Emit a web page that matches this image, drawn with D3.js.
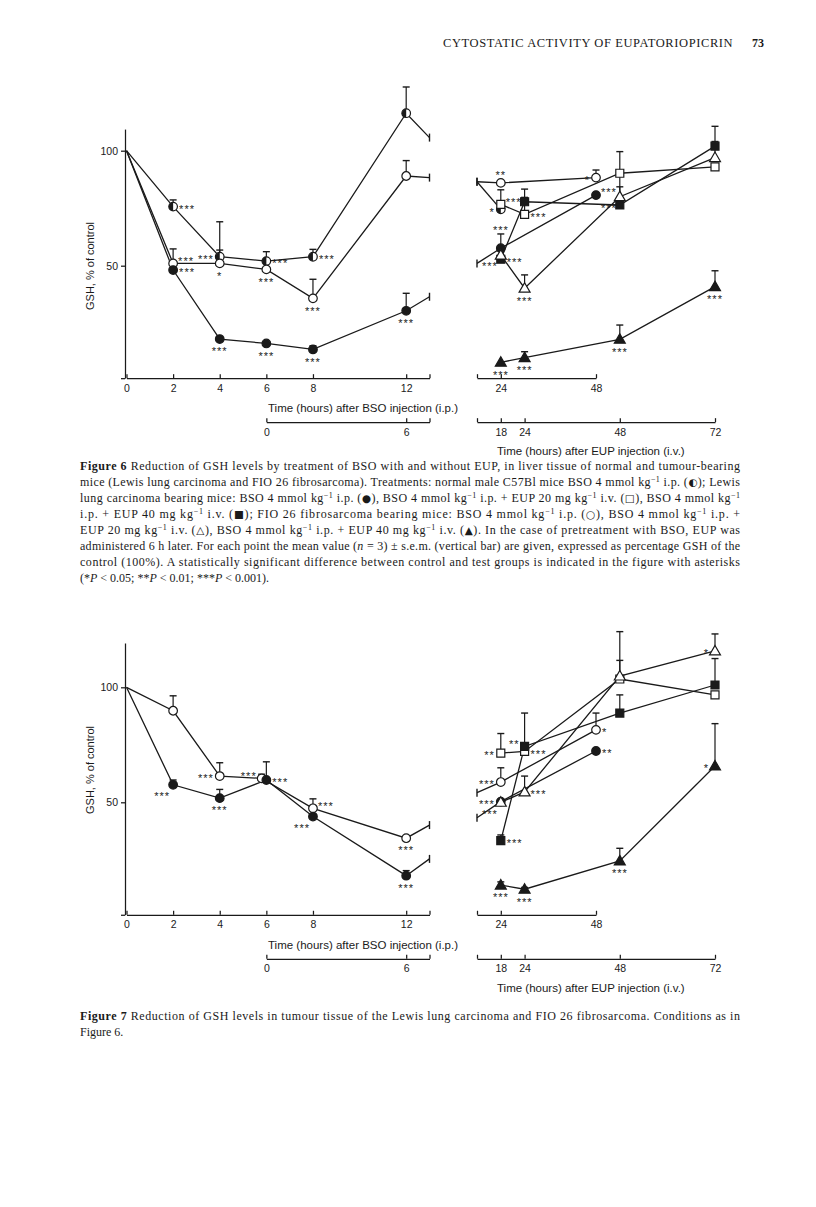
<!DOCTYPE html>
<html><head><meta charset="utf-8">
<script src="https://cdn.jsdelivr.net/npm/d3@7"></script>
<style>body{margin:0;background:#fff} svg{display:block}</style>
</head><body><svg id="c" width="816" height="1207"></svg>
<script>
// ---------------- DATA ----------------
const HEADER_TITLE = 'CYTOSTATIC ACTIVITY OF EUPATORIOPICRIN';
const HEADER_PAGE = '73';
const Y_LABEL = 'GSH, % of control';
const X_TITLE_BSO = 'Time (hours) after BSO injection (i.p.)';
const X_TITLE_EUP = 'Time (hours) after EUP injection (i.v.)';
const Y_TICKS = [50, 100];
const BSO_TICKS_L = [0, 2, 4, 6, 8, 12];
const BSO_TICKS_R = [24, 48];
const EUP_TICKS_L = [0, 6];
const EUP_TICKS_R = [18, 24, 48, 72];

// Figure 6 – left panel (hours after BSO)
const F6L_X      = [0, 2, 4, 6, 8, 12, 13];
const F6L_HALF   = [100, 75.7, 53.9, 52.0, 53.9, 116.3, 105.7];
const F6L_HALF_E = [null, 78.6, 56.8, 56.1, 57.1, 127.7, null];
const F6L_HALF_S = ['', '***', '***', '***', '***', '', ''];
const F6L_HALF_P = ['', 'r', 'l', 'r', 'r', '', ''];
const F6L_OPEN   = [100, 51.0, 51.0, 48.4, 35.8, 89.0, 88.3];
const F6L_OPEN_E = [null, 57.3, 69.1, null, 44.1, 95.7, null];
const F6L_OPEN_S = ['', '***', '*', '***', '***', '', ''];
const F6L_OPEN_P = ['', 'ra', 'b', 'b', 'b', '', ''];
const F6L_FILL   = [100, 48.1, 18.1, 16.2, 13.6, 30.4, 36.5];
const F6L_FILL_E = [null, null, null, null, 15.2, 38.0, null];
const F6L_FILL_S = ['', '***', '***', '***', '***', '***', ''];
const F6L_FILL_P = ['', 'r', 'b', 'b', 'b', 'b', ''];

// Figure 6 – right panel (hours after BSO; EUP series at EUP 18/24/48/72 h)
const F6R_BSO_X   = [18, 24, 48];
const F6R_EUP_X   = [24, 30, 54, 78];
const F6R_OPEN    = [86.5, 86.0, 88.3];
const F6R_OPEN_E  = [null, null, 91.6];
const F6R_OPEN_S  = ['', '**', '*'];
const F6R_OPEN_P  = ['', 'a', 'l'];
const F6R_HALF_X  = [18, 24];
const F6R_HALF    = [86.5, 74.5];
const F6R_HALF_E  = [null, 83.0];
const F6R_HALF_S  = ['', '*'];
const F6R_HALF_P  = ['', 'l'];
const F6R_FILL    = [51.0, 57.6, 80.7];
const F6R_FILL_E  = [null, 63.8, null];
const F6R_FILL_S  = ['', '***', '***'];
const F6R_FILL_P  = ['', 'a', 'ra'];
const F6R_SQF     = [52.8, 77.8, 76.4, 102.0];
const F6R_SQF_E   = [null, 83.3, 90.0, 110.6];
const F6R_SQF_S   = ['***', '', '', ''];
const F6R_SQF_P   = ['r', '', '', ''];
const F6R_SQO     = [76.7, 72.3, 90.2, 93.0];
const F6R_SQO_E   = [null, 79.7, 99.6, null];
const F6R_SQO_S   = ['***', '***', '', ''];
const F6R_SQO_P   = ['ra', 'r', '', ''];
const F6R_TRO     = [54.6, 40.2, 80.0, 97.0];
const F6R_TRO_E   = [null, 46.0, 84.3, 104.0];
const F6R_TRO_S   = ['***', '***', '***', ''];
const F6R_TRO_P   = ['lb', 'b', 'lb', ''];
const F6R_TRF     = [8.0, 10.0, 18.0, 40.9];
const F6R_TRF_E   = [null, 12.6, 24.2, 47.8];
const F6R_TRF_S   = ['***', '***', '***', '***'];
const F6R_TRF_P   = ['b', 'b', 'b', 'b'];

// Figure 7 – left panel
const F7L_X       = [0, 2, 4, 6, 8, 12, 13];
const F7L_OPEN_X  = [0, 2, 4, 5.8, 8, 12, 13];
const F7L_OPEN    = [100, 89.8, 61.4, 60.4, 47.4, 34.4, 40.1];
const F7L_OPEN_E  = [null, 96.3, 67.2, 62.2, 51.5, null, null];
const F7L_OPEN_S  = ['', '', '***', '***', '***', '***', ''];
const F7L_OPEN_P  = ['', '', 'l', 'la', 'ra', 'b', ''];
const F7L_FILL    = [100, 57.6, 51.8, 59.7, 43.8, 18.1, 25.4];
const F7L_FILL_E  = [null, 59.7, 55.6, 67.6, null, 20.3, null];
const F7L_FILL_S  = ['', '***', '***', '***', '***', '***', ''];
const F7L_FILL_P  = ['', 'lb', 'b', 'r', 'lb', 'b', ''];

// Figure 7 – right panel
const F7R_BSO_X   = [18, 24, 48];
const F7R_EUP_X   = [24, 30, 54, 78];
const F7R_OPEN    = [54.2, 58.8, 81.5];
const F7R_OPEN_E  = [null, 65.0, 88.8];
const F7R_OPEN_S  = ['', '***', '*'];
const F7R_OPEN_P  = ['', 'l', 'r'];
const F7R_FILL    = [43.3, 50.3, 72.3];
const F7R_FILL_E  = [null, null, null];
const F7R_FILL_S  = ['', '***', '**'];
const F7R_FILL_P  = ['', 'l', 'r'];
const F7R_SQO     = [71.4, 72.1, 103.6, 96.7];
const F7R_SQO_E   = [79.9, null, 124.2, null];
const F7R_SQO_S   = ['**', '***', '', ''];
const F7R_SQO_P   = ['l', 'r', '', ''];
const F7R_SQF     = [33.3, 74.3, 88.8, 101.0];
const F7R_SQF_E   = [35.8, 88.8, 96.7, 112.5];
const F7R_SQF_S   = ['***', '**', '', ''];
const F7R_SQF_P   = ['r', 'la', '', ''];
const F7R_TRO     = [50.0, 54.5, 104.9, 115.8];
const F7R_TRO_E   = [null, 61.4, 111.7, 123.2];
const F7R_TRO_S   = ['***', '***', '', '*'];
const F7R_TRO_P   = ['lb', 'r', '', 'l'];
const F7R_TRF     = [14.0, 12.2, 24.5, 65.8];
const F7R_TRF_E   = [15.4, 13.0, 30.0, 84.2];
const F7R_TRF_S   = ['***', '***', '***', '*'];
const F7R_TRF_P   = ['b', 'b', 'b', 'l'];

// Captions ([b:..] bold, [i:..] italic, {..} superscript)
const CAPTION6 = [
 '[b:Figure 6]  Reduction of GSH levels by treatment of BSO with and without EUP, in liver tissue of normal and tumour-bearing',
 'mice (Lewis lung carcinoma and FIO 26 fibrosarcoma). Treatments: normal male C57Bl mice BSO 4 mmol kg{−1} i.p. (◐); Lewis',
 'lung carcinoma bearing mice: BSO 4 mmol kg{−1} i.p. (●), BSO 4 mmol kg{−1} i.p. + EUP 20 mg kg{−1} i.v. (□), BSO 4 mmol kg{−1}',
 'i.p. + EUP 40 mg kg{−1} i.v. (■); FIO 26 fibrosarcoma bearing mice: BSO 4 mmol kg{−1} i.p. (○), BSO 4 mmol kg{−1} i.p. +',
 'EUP 20 mg kg{−1} i.v. (△), BSO 4 mmol kg{−1} i.p. + EUP 40 mg kg{−1} i.v. (▲). In the case of pretreatment with BSO, EUP was',
 'administered 6 h later. For each point the mean value ([i:n] = 3) ± s.e.m. (vertical bar) are given, expressed as percentage GSH of the',
 'control (100%). A statistically significant difference between control and test groups is indicated in the figure with asterisks',
 '(*[i:P] < 0.05; **[i:P] < 0.01; ***[i:P] < 0.001).'
];
const CAPTION7 = [
 '[b:Figure 7]  Reduction of GSH levels in tumour tissue of the Lewis lung carcinoma and FIO 26 fibrosarcoma. Conditions as in',
 'Figure 6.'
];

// ---------------- DRAWING ----------------
const SANS = "'Liberation Sans', Arial, Helvetica, sans-serif";
const SERIF = "'Liberation Serif', 'Times New Roman', serif";
const SYMF = "'DejaVu Sans', sans-serif";
const INK = '#1a1a1a';
const svg = d3.select('#c');

const xL = d3.scaleLinear().domain([0, 13]).range([126.5, 429.5]);
const xR = d3.scaleLinear().domain([18, 78]).range([477, 715]);
const AXIS_V = 1.1;

function ser(sym, panel, xs, v, e, s, p) {
  return {sym, panel, pts: xs.map((x, i) => ({x, v: v[i], e: e[i], s: s[i], p: p[i]}))};
}

const FIG6 = {
  y: d3.scaleLinear().domain([0, 100]).range([380.7, 150.7]), yTop: 109.4, yLabelY: 266,
  series: [
    ser('half', 'L', F6L_X, F6L_HALF, F6L_HALF_E, F6L_HALF_S, F6L_HALF_P),
    ser('circO', 'L', F6L_X, F6L_OPEN, F6L_OPEN_E, F6L_OPEN_S, F6L_OPEN_P),
    ser('circF', 'L', F6L_X, F6L_FILL, F6L_FILL_E, F6L_FILL_S, F6L_FILL_P),
    ser('circO', 'R', F6R_BSO_X, F6R_OPEN, F6R_OPEN_E, F6R_OPEN_S, F6R_OPEN_P),
    ser('half', 'R', F6R_HALF_X, F6R_HALF, F6R_HALF_E, F6R_HALF_S, F6R_HALF_P),
    ser('circF', 'R', F6R_BSO_X, F6R_FILL, F6R_FILL_E, F6R_FILL_S, F6R_FILL_P),
    ser('sqF', 'R', F6R_EUP_X, F6R_SQF, F6R_SQF_E, F6R_SQF_S, F6R_SQF_P),
    ser('sqO', 'R', F6R_EUP_X, F6R_SQO, F6R_SQO_E, F6R_SQO_S, F6R_SQO_P),
    ser('triO', 'R', F6R_EUP_X, F6R_TRO, F6R_TRO_E, F6R_TRO_S, F6R_TRO_P),
    ser('triF', 'R', F6R_EUP_X, F6R_TRF, F6R_TRF_E, F6R_TRF_S, F6R_TRF_P)
  ],
  caption: CAPTION6, capY: 470
};
const FIG7 = {
  y: d3.scaleLinear().domain([0, 100]).range([917.3, 687.3]), yTop: 119.3, yLabelY: 770,
  series: [
    ser('circO', 'L', F7L_OPEN_X, F7L_OPEN, F7L_OPEN_E, F7L_OPEN_S, F7L_OPEN_P),
    ser('circF', 'L', F7L_X, F7L_FILL, F7L_FILL_E, F7L_FILL_S, F7L_FILL_P),
    ser('circO', 'R', F7R_BSO_X, F7R_OPEN, F7R_OPEN_E, F7R_OPEN_S, F7R_OPEN_P),
    ser('circF', 'R', F7R_BSO_X, F7R_FILL, F7R_FILL_E, F7R_FILL_S, F7R_FILL_P),
    ser('sqO', 'R', F7R_EUP_X, F7R_SQO, F7R_SQO_E, F7R_SQO_S, F7R_SQO_P),
    ser('sqF', 'R', F7R_EUP_X, F7R_SQF, F7R_SQF_E, F7R_SQF_S, F7R_SQF_P),
    ser('triO', 'R', F7R_EUP_X, F7R_TRO, F7R_TRO_E, F7R_TRO_S, F7R_TRO_P),
    ser('triF', 'R', F7R_EUP_X, F7R_TRF, F7R_TRF_E, F7R_TRF_S, F7R_TRF_P)
  ],
  caption: CAPTION7, capY: 1020
};

// header
svg.append('text').attr('x', 443).attr('y', 47).attr('font-family', SERIF).attr('font-size', 12.5)
  .attr('letter-spacing', 0.6).attr('fill', INK).text(HEADER_TITLE);
svg.append('text').attr('x', 764).attr('y', 47).attr('text-anchor', 'end').attr('font-family', SERIF)
  .attr('font-weight', 'bold').attr('font-size', 12).attr('fill', INK).text(HEADER_PAGE);

function styleAxis(sel) {
  sel.attr('font-family', SANS).attr('font-size', 10.5);
  sel.selectAll('path,line').attr('stroke', INK).attr('stroke-width', 1.25);
  sel.selectAll('text').attr('fill', INK);
}

function marker(g, sym, cx, cy) {
  const r = 4.3;
  if (sym === 'half') {
    g.append('circle').attr('cx', cx).attr('cy', cy).attr('r', r).attr('fill', '#fff').attr('stroke', INK).attr('stroke-width', 1.2);
    g.append('path').attr('d', `M${cx},${cy - r}A${r},${r} 0 0 0 ${cx},${cy + r}Z`).attr('fill', INK);
    return;
  }
  const type = sym.startsWith('circ') ? d3.symbolCircle : sym.startsWith('sq') ? d3.symbolSquare : d3.symbolTriangle;
  const size = sym.startsWith('circ') ? 58 : sym.startsWith('sq') ? 64 : 52;
  const filled = sym.endsWith('F');
  g.append('path').attr('d', d3.symbol(type, size)())
    .attr('transform', `translate(${cx},${cy + (sym.startsWith('tri') ? 0.8 : 0)})`)
    .attr('fill', filled ? INK : '#fff').attr('stroke', INK).attr('stroke-width', 1.2);
}

function sig(g, text, side, px, py, pe) {
  let x = px, cy = py, anchor = 'start';
  switch (side) {
    case 'r': x = px + 6; break;
    case 'l': x = px - 6; anchor = 'end'; break;
    case 'b': cy = py + 10; anchor = 'middle'; break;
    case 'a': cy = (pe != null ? pe : py - 4) - 6; anchor = 'middle'; break;
    case 'ra': x = px + 5; cy = py - 5; break;
    case 'la': x = px - 5; cy = py - 5; anchor = 'end'; break;
    case 'lb': x = px - 3; cy = py + 9; anchor = 'end'; break;
    case 'rb': x = px + 4; cy = py + 9; break;
  }
  g.append('text').attr('x', x).attr('y', cy + 6.3).attr('text-anchor', anchor)
    .attr('font-family', SANS).attr('font-size', 11).attr('letter-spacing', 1).attr('fill', INK).text(text);
}

function drawFigure(F) {
  const y = F.y;
  const g = svg.append('g');
  const axisY = y(AXIS_V);

  // y axis
  const yAx = d3.scaleLinear().domain([AXIS_V, F.yTop]).range([y(AXIS_V), y(F.yTop)]);
  g.append('g').attr('transform', `translate(${xL(0) - 1.5},0)`)
    .call(d3.axisLeft(yAx).tickValues([AXIS_V, ...Y_TICKS]).tickFormat(d => Y_TICKS.includes(d) ? d : '')
      .tickSizeInner(4).tickSizeOuter(0).tickPadding(3)).call(styleAxis);
  g.append('text').attr('transform', `translate(94,${F.yLabelY}) rotate(-90)`).attr('text-anchor', 'middle')
    .attr('font-family', SANS).attr('font-size', 11).attr('fill', INK).text(Y_LABEL);

  // BSO axes
  g.append('g').attr('transform', `translate(0,${axisY})`)
    .call(d3.axisBottom(xL).tickValues([...BSO_TICKS_L, 13]).tickFormat(d => BSO_TICKS_L.includes(d) ? d : '')
      .tickSizeInner(-4).tickSizeOuter(0).tickPadding(6)).call(styleAxis);
  const xRb = d3.scaleLinear().domain([18, 48]).range([xR(18), xR(48)]);
  g.append('g').attr('transform', `translate(0,${axisY})`)
    .call(d3.axisBottom(xRb).tickValues([18, ...BSO_TICKS_R]).tickFormat(d => BSO_TICKS_R.includes(d) ? d : '')
      .tickSizeInner(-4).tickSizeOuter(0).tickPadding(6)).call(styleAxis);
  g.append('text').attr('x', 268).attr('y', axisY + 34).attr('font-family', SANS).attr('font-size', 11.5)
    .attr('fill', INK).text(X_TITLE_BSO);

  // EUP axes (EUP time = BSO time - 6 h)
  const eupY = axisY + 44;
  const eL = d3.scaleLinear().domain([0, 7]).range([xL(6), xL(13)]);
  const eR = d3.scaleLinear().domain([12, 72]).range([xR(18), xR(78)]);
  g.append('g').attr('transform', `translate(0,${eupY})`)
    .call(d3.axisBottom(eL).tickValues([...EUP_TICKS_L, 7]).tickFormat(d => EUP_TICKS_L.includes(d) ? d : '')
      .tickSizeInner(-4).tickSizeOuter(0).tickPadding(6)).call(styleAxis);
  g.append('g').attr('transform', `translate(0,${eupY})`)
    .call(d3.axisBottom(eR).tickValues([12, ...EUP_TICKS_R]).tickFormat(d => EUP_TICKS_R.includes(d) ? d : '')
      .tickSizeInner(-4).tickSizeOuter(0).tickPadding(6)).call(styleAxis);
  g.append('text').attr('x', 497).attr('y', eupY + 33).attr('font-family', SANS).attr('font-size', 11.5)
    .attr('fill', INK).text(X_TITLE_EUP);

  const gl = g.append('g'), ge = g.append('g'), gm = g.append('g'), gs = g.append('g');
  F.series.forEach(S => {
    const xs = S.panel === 'L' ? xL : xR;
    gl.append('path').datum(S.pts)
      .attr('d', d3.line().x(d => xs(d.x)).y(d => y(d.v)))
      .attr('fill', 'none').attr('stroke', INK).attr('stroke-width', 1.3);
    S.pts.forEach(d => {
      const px = xs(d.x), py = y(d.v);
      const pe = d.e != null ? y(d.e) : null;
      if (d.x === 13 || d.x === 18) {
        ge.append('line').attr('x1', px).attr('x2', px).attr('y1', py - 4).attr('y2', py + 4)
          .attr('stroke', INK).attr('stroke-width', 1.4);
        return;
      }
      if (d.x === 0) return;
      if (pe != null) {
        ge.append('line').attr('x1', px).attr('x2', px).attr('y1', py).attr('y2', pe).attr('stroke', INK).attr('stroke-width', 1.2);
        ge.append('line').attr('x1', px - 3.5).attr('x2', px + 3.5).attr('y1', pe).attr('y2', pe).attr('stroke', INK).attr('stroke-width', 1.4);
      }
      marker(gm, S.sym, px, py);
      if (d.s) sig(gs, d.s, d.p, px, py, pe);
    });
  });

  // caption
  const x0 = 80, x1 = 740;
  F.caption.forEach((line, i) => {
    const t = svg.append('text').attr('x', x0).attr('y', F.capY + i * 16).attr('font-family', SERIF)
      .attr('font-size', 12).attr('fill', INK);
    if (i < F.caption.length - 1) t.attr('textLength', x1 - x0).attr('lengthAdjust', 'spacing');
    const re = /\[b:([^\]]*)\]|\[i:([^\]]*)\]|\{([^}]*)\}|([◐●□■○△▲])/g;
    let last = 0, m, sup = false;
    const add = (txt, opts = {}) => {
      const ts = t.append('tspan').text(txt);
      if (opts.b) ts.attr('font-weight', 'bold');
      if (opts.i) ts.attr('font-style', 'italic');
      if (opts.sym) ts.attr('font-family', SYMF).attr('font-size', 10.5);
      if (opts.sup) { ts.attr('dy', -4).attr('font-size', 8); sup = true; }
      else if (sup) { ts.attr('dy', 4); sup = false; }
    };
    while ((m = re.exec(line)) !== null) {
      if (m.index > last) add(line.slice(last, m.index));
      if (m[1] !== undefined) add(m[1], {b: 1});
      else if (m[2] !== undefined) add(m[2], {i: 1});
      else if (m[3] !== undefined) add(m[3], {sup: 1});
      else add(m[4], {sym: 1});
      last = re.lastIndex;
    }
    if (last < line.length) add(line.slice(last));
  });
}

drawFigure(FIG6);
drawFigure(FIG7);
</script></body></html>
